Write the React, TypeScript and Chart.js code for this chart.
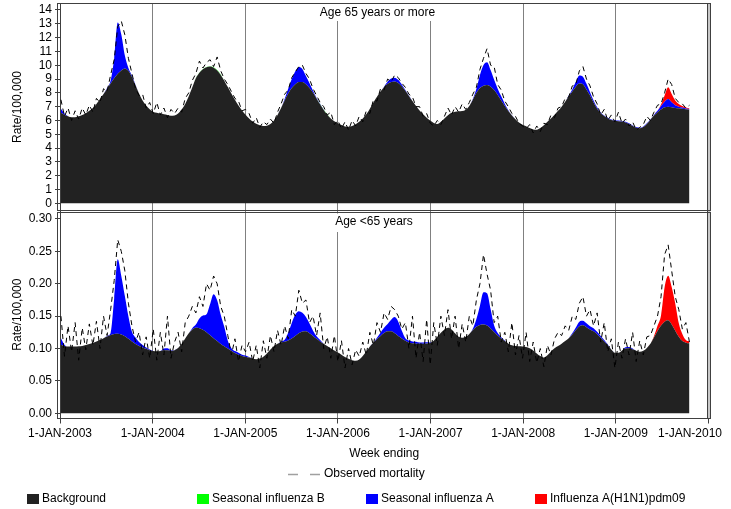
import React, { useEffect, useRef } from "react";
import { Chart, registerables } from "chart.js";

Chart.register(...registerables);

const FONT = "'Liberation Sans', Arial, sans-serif";
const SHIFT = 7; // canvas starts above the page so the forced top label padding lands outside the view

// ---- categories / ticks / labels ----
const yearTicks = [2003, 2004, 2005, 2006, 2007, 2008, 2009, 2010];
const topTicks = [0, 1, 2, 3, 4, 5, 6, 7, 8, 9, 10, 11, 12, 13, 14];
const bottomTicks = [0, 0.05, 0.1, 0.15, 0.2, 0.25, 0.3];
const panelTitles = ["Age 65 years or more", "Age <65 years"];
const seriesNames = ["Background", "Seasonal influenza B", "Seasonal influenza A", "Influenza A(H1N1)pdm09"];
const seriesColors = ["#222222", "#00ff00", "#0000ff", "#ff0000"];
const observedName = "Observed mortality";
const xTitle = "Week ending";
const yTitle = "Rate/100,000";

// ---- Age 65 years or more (rate per 100,000), one sample every two weeks from early Jan 2003 ----
const topBackground = [
  6.55, 6.42, 6.30, 6.23, 6.24, 6.30, 6.39, 6.52, 6.70, 6.90, 7.20, 7.55, 7.92, 8.30, 8.68, 9.05, 9.38, 9.62, 9.77, 9.60, 9.15, 8.55, 7.95, 7.45, 7.08, 6.82, 6.62,
  6.56, 6.50, 6.45, 6.40, 6.34, 6.36, 6.50, 6.80, 7.20, 7.75, 8.40, 9.05, 9.45, 9.70, 9.85, 9.90, 9.82, 9.62, 9.30, 8.88, 8.42, 7.95, 7.50, 7.08, 6.72, 6.42,
  6.15, 5.92, 5.76, 5.66, 5.60, 5.62, 5.75, 6.00, 6.40, 6.90, 7.45, 7.95, 8.35, 8.62, 8.78, 8.78, 8.62, 8.35, 8.00, 7.58, 7.15, 6.75, 6.42, 6.15, 5.95, 5.80,
  5.67, 5.57, 5.55, 5.60, 5.72, 5.90, 6.15, 6.45, 6.85, 7.30, 7.72, 8.10, 8.40, 8.65, 8.78, 8.82, 8.72, 8.48, 8.15, 7.78, 7.40, 7.05, 6.72, 6.45, 6.20, 6.00,
  5.82, 5.74, 5.90, 6.15, 6.38, 6.55, 6.63, 6.66, 6.68, 6.78, 7.05, 7.50, 8.00, 8.35, 8.52, 8.57, 8.45, 8.20, 7.85, 7.45, 7.05, 6.68, 6.35, 6.08, 5.85, 5.68,
  5.58, 5.45, 5.35, 5.33, 5.45, 5.65, 5.90, 6.15, 6.42, 6.70, 7.00, 7.35, 7.75, 8.10, 8.45, 8.68, 8.62, 8.25, 7.80, 7.30, 6.85, 6.52, 6.32, 6.15, 6.03, 5.98,
  5.95, 5.92, 5.86, 5.75, 5.60, 5.48, 5.43, 5.52, 5.75, 6.05, 6.35, 6.60, 6.80, 6.95, 7.00, 6.96, 6.90, 6.88, 6.85, 6.82, 6.80,
];
const topFluB = [
  0, 0, 0, 0, 0, 0, 0, 0, 0, 0, 0, 0, 0, 0, 0, 0, 0, 0, 0, 0, 0, 0, 0, 0, 0, 0, 0,
  0, 0, 0, 0, 0, 0, 0, 0, 0, 0, 0, 0.03, 0.03, 0.03, 0.03, 0.03, 0.03, 0.03, 0.03, 0, 0, 0, 0, 0, 0, 0,
  0, 0, 0, 0, 0, 0, 0, 0, 0, 0, 0, 0, 0, 0, 0, 0, 0, 0, 0, 0, 0.03, 0.03, 0.03, 0, 0, 0,
  0, 0, 0, 0, 0, 0, 0, 0, 0, 0, 0, 0, 0, 0, 0, 0, 0, 0, 0, 0, 0, 0, 0, 0, 0, 0,
  0, 0, 0, 0, 0, 0, 0, 0, 0, 0, 0, 0, 0, 0, 0, 0, 0, 0, 0, 0, 0, 0, 0, 0, 0, 0,
  0, 0, 0, 0, 0, 0, 0, 0, 0, 0, 0, 0, 0, 0, 0, 0, 0, 0, 0, 0, 0, 0, 0, 0, 0, 0,
  0, 0, 0, 0, 0, 0, 0, 0, 0, 0, 0, 0, 0, 0, 0, 0, 0, 0, 0, 0, 0,
];
const topFluA = [
  0.30, 0.08, 0, 0, 0, 0, 0, 0, 0, 0, 0, 0, 0, 0.05, 0.22, 1.45, 3.72, 2.60, 0.93, 0.20, 0.10, 0.03, 0, 0, 0, 0, 0,
  0, 0, 0, 0, 0, 0, 0, 0, 0, 0, 0, 0, 0, 0, 0, 0, 0, 0, 0, 0, 0, 0, 0, 0, 0, 0,
  0, 0, 0, 0, 0, 0, 0, 0, 0, 0, 0.10, 0.35, 0.65, 0.95, 1.10, 0.95, 0.60, 0.35, 0.15, 0.05, 0.03, 0.02, 0, 0, 0, 0,
  0, 0, 0, 0, 0, 0, 0, 0, 0, 0, 0, 0, 0.05, 0.15, 0.25, 0.28, 0.22, 0.12, 0.05, 0.02, 0, 0, 0, 0, 0, 0,
  0, 0, 0, 0, 0, 0, 0, 0, 0, 0, 0, 0.05, 0.30, 0.95, 1.50, 1.65, 1.20, 0.75, 0.45, 0.30, 0.15, 0.06, 0.02, 0, 0, 0,
  0, 0, 0, 0, 0, 0, 0, 0, 0, 0, 0, 0, 0.05, 0.15, 0.35, 0.58, 0.55, 0.40, 0.25, 0.15, 0.10, 0.06, 0.04, 0.04, 0.04, 0.04,
  0.04, 0.04, 0.04, 0.04, 0.04, 0.04, 0.04, 0.04, 0.04, 0.04, 0.05, 0.10, 0.25, 0.40, 0.55, 0.35, 0.20, 0.12, 0.08, 0.04, 0.03,
];
const topH1N1 = [
  0, 0, 0, 0, 0, 0, 0, 0, 0, 0, 0, 0, 0, 0, 0, 0, 0, 0, 0, 0, 0, 0, 0, 0, 0, 0, 0,
  0, 0, 0, 0, 0, 0, 0, 0, 0, 0, 0, 0, 0, 0, 0, 0, 0, 0, 0, 0, 0, 0, 0, 0, 0, 0,
  0, 0, 0, 0, 0, 0, 0, 0, 0, 0, 0, 0, 0, 0, 0, 0, 0, 0, 0, 0, 0, 0, 0, 0, 0, 0,
  0, 0, 0, 0, 0, 0, 0, 0, 0, 0, 0, 0, 0, 0, 0, 0, 0, 0, 0, 0, 0, 0, 0, 0, 0, 0,
  0, 0, 0, 0, 0, 0, 0, 0, 0, 0, 0, 0, 0, 0, 0, 0, 0, 0, 0, 0, 0, 0, 0, 0, 0, 0,
  0, 0, 0, 0, 0, 0, 0, 0, 0, 0, 0, 0, 0, 0, 0, 0, 0, 0, 0, 0, 0, 0, 0, 0, 0, 0,
  0, 0, 0, 0, 0, 0, 0, 0, 0, 0, 0, 0, 0.10, 0.45, 0.85, 0.60, 0.35, 0.20, 0.12, 0.08, 0.05,
];
const topObserved = [
  7.5, 6.3, 6.9, 6.0, 6.7, 6.1, 6.9, 6.4, 7.1, 6.6, 7.6, 7.3, 8.3, 8.1, 9.3, 10.4, 12.8, 13.2, 12.2, 10.5, 9.4, 8.3, 7.8, 7.9, 6.9, 7.3, 6.5,
  7.3, 6.4, 6.9, 6.2, 6.8, 6.5, 6.9, 6.6, 7.6, 8.0, 8.9, 9.4, 10.3, 9.8, 10.2, 10.4, 9.9, 10.6, 9.6, 9.0, 8.6, 8.1, 7.6, 7.4, 6.7, 6.8,
  6.5, 5.8, 6.2, 5.5, 5.9, 5.7, 6.1, 5.8, 6.6, 7.2, 7.9, 8.2, 9.1, 9.5, 9.9, 10.0, 9.4, 9.0, 8.3, 7.8, 7.3, 7.0, 6.4, 6.6, 5.7, 6.0,
  5.4, 5.9, 5.3, 6.0, 5.6, 6.3, 5.9, 6.7, 6.5, 7.5, 7.4, 8.3, 8.2, 9.0, 8.8, 9.3, 9.1, 8.7, 8.4, 7.9, 7.7, 7.0, 7.0, 6.3, 6.5, 5.8,
  5.6, 6.0, 5.7, 6.3, 6.9, 6.4, 7.0, 6.6, 7.2, 6.8, 7.3, 7.9, 8.4, 9.7, 10.5, 11.2, 10.0, 9.9, 8.6, 8.2, 7.4, 7.0, 6.5, 6.3, 5.8, 5.6,
  5.4, 5.7, 5.1, 5.6, 5.2, 5.8, 5.7, 6.4, 6.2, 6.9, 7.0, 7.6, 7.7, 8.5, 8.6, 9.6, 9.9, 9.0, 8.5, 7.7, 7.2, 6.4, 6.8, 6.0, 6.4, 5.9,
  6.6, 5.8, 6.1, 5.6, 5.9, 5.3, 5.5, 5.7, 6.3, 6.0, 6.6, 7.1, 7.2, 8.0, 9.0, 8.6, 7.6, 7.3, 7.2, 6.9, 7.1,
];

// ---- Age <65 years ----
const bottomBackground = [
  0.106, 0.104, 0.103, 0.103, 0.1032, 0.1036, 0.104, 0.1055, 0.107, 0.109, 0.111, 0.113, 0.1158, 0.1185, 0.121, 0.1225, 0.1228, 0.1218, 0.119, 0.115, 0.111, 0.107, 0.104, 0.1015, 0.0995, 0.0975, 0.0962,
  0.0958, 0.0962, 0.0972, 0.0975, 0.0965, 0.0975, 0.101, 0.1075, 0.1155, 0.1235, 0.1295, 0.132, 0.1315, 0.129, 0.125, 0.1205, 0.116, 0.1115, 0.107, 0.1035, 0.1, 0.0965, 0.093, 0.0905, 0.0885, 0.0872,
  0.086, 0.0845, 0.0836, 0.0845, 0.0875, 0.0925, 0.0985, 0.104, 0.1075, 0.1095, 0.1105, 0.1125, 0.1155, 0.1195, 0.1235, 0.1262, 0.1265, 0.1235, 0.1195, 0.115, 0.111, 0.1075, 0.104, 0.1005, 0.097, 0.094,
  0.0905, 0.087, 0.0842, 0.082, 0.081, 0.083, 0.0885, 0.0955, 0.103, 0.109, 0.1145, 0.1195, 0.124, 0.1268, 0.1265, 0.1235, 0.1195, 0.1155, 0.112, 0.1095, 0.108, 0.1075, 0.1075, 0.1075, 0.1078, 0.1085,
  0.112, 0.118, 0.1245, 0.1295, 0.132, 0.1295, 0.1235, 0.118, 0.1165, 0.118, 0.1225, 0.1285, 0.1335, 0.1362, 0.137, 0.1355, 0.131, 0.1255, 0.12, 0.1155, 0.1115, 0.1075, 0.105, 0.104, 0.1035, 0.1032,
  0.1025, 0.1005, 0.097, 0.0925, 0.0885, 0.086, 0.0895, 0.0955, 0.1005, 0.104, 0.1075, 0.1115, 0.116, 0.1215, 0.1285, 0.1345, 0.1358, 0.133, 0.1295, 0.1265, 0.122, 0.1165, 0.111, 0.1052, 0.0985, 0.0935,
  0.0935, 0.097, 0.1, 0.1005, 0.099, 0.0965, 0.095, 0.0965, 0.101, 0.1075, 0.117, 0.127, 0.1355, 0.1415, 0.1435, 0.137, 0.1275, 0.118, 0.1115, 0.109, 0.108,
];
const bottomFluB = [
  0, 0, 0, 0, 0, 0, 0, 0, 0, 0, 0, 0, 0, 0, 0, 0, 0, 0, 0, 0, 0, 0, 0, 0, 0, 0, 0,
  0, 0, 0, 0, 0, 0, 0, 0, 0, 0, 0, 0, 0, 0, 0, 0, 0, 0, 0, 0, 0, 0, 0, 0, 0, 0,
  0, 0, 0, 0, 0, 0, 0, 0, 0, 0, 0, 0, 0, 0, 0, 0, 0, 0, 0, 0, 0, 0, 0, 0, 0, 0,
  0, 0, 0, 0, 0, 0, 0, 0, 0, 0, 0, 0, 0, 0, 0, 0, 0, 0, 0, 0, 0, 0, 0, 0, 0, 0,
  0, 0, 0, 0, 0, 0, 0, 0, 0, 0, 0, 0, 0, 0, 0, 0, 0, 0, 0, 0, 0, 0, 0, 0, 0, 0,
  0, 0, 0, 0, 0, 0, 0, 0, 0, 0, 0, 0, 0, 0, 0, 0, 0, 0, 0, 0, 0, 0, 0, 0, 0, 0,
  0, 0, 0, 0, 0, 0, 0, 0, 0, 0, 0, 0, 0, 0, 0, 0, 0, 0, 0, 0, 0,
];
const bottomFluA = [
  0.01, 0.002, 0, 0, 0, 0, 0, 0, 0, 0, 0, 0, 0, 0.001, 0.003, 0.055, 0.115, 0.09, 0.062, 0.035, 0.015, 0.01, 0.006, 0.004, 0.002, 0.001, 0,
  0, 0, 0.003, 0.003, 0.001, 0, 0, 0, 0, 0, 0.002, 0.005, 0.015, 0.022, 0.028, 0.048, 0.068, 0.063, 0.045, 0.03, 0.012, 0.004, 0.003, 0.003, 0.002, 0.002,
  0.001, 0, 0, 0, 0, 0, 0, 0, 0, 0.001, 0.003, 0.012, 0.024, 0.033, 0.034, 0.029, 0.022, 0.015, 0.008, 0.004, 0.002, 0, 0, 0, 0, 0,
  0, 0, 0, 0, 0, 0, 0, 0, 0, 0, 0.002, 0.005, 0.008, 0.011, 0.018, 0.025, 0.022, 0.012, 0.004, 0.003, 0.003, 0.003, 0.002, 0.002, 0.002, 0.001,
  0, 0, 0, 0, 0, 0, 0, 0, 0, 0, 0, 0.002, 0.012, 0.03, 0.05, 0.05, 0.03, 0.01, 0.004, 0.002, 0.001, 0, 0, 0, 0, 0,
  0, 0, 0, 0, 0, 0, 0, 0, 0, 0, 0, 0, 0, 0.002, 0.004, 0.007, 0.007, 0.006, 0.005, 0.005, 0.004, 0.003, 0.002, 0.001, 0, 0,
  0, 0, 0.002, 0.002, 0.001, 0, 0, 0, 0, 0, 0, 0, 0, 0, 0, 0, 0, 0, 0, 0, 0,
];
const bottomH1N1 = [
  0, 0, 0, 0, 0, 0, 0, 0, 0, 0, 0, 0, 0, 0, 0, 0, 0, 0, 0, 0, 0, 0, 0, 0, 0, 0, 0,
  0, 0, 0, 0, 0, 0, 0, 0, 0, 0, 0, 0, 0, 0, 0, 0, 0, 0, 0, 0, 0, 0, 0, 0, 0, 0,
  0, 0, 0, 0, 0, 0, 0, 0, 0, 0, 0, 0, 0, 0, 0, 0, 0, 0, 0, 0, 0, 0, 0, 0, 0, 0,
  0, 0, 0, 0, 0, 0, 0, 0, 0, 0, 0, 0, 0, 0, 0, 0, 0, 0, 0, 0, 0, 0, 0, 0, 0, 0,
  0, 0, 0, 0, 0, 0, 0, 0, 0, 0, 0, 0, 0, 0, 0, 0, 0, 0, 0, 0, 0, 0, 0, 0, 0, 0,
  0, 0, 0, 0, 0, 0, 0, 0, 0, 0, 0, 0, 0, 0, 0, 0, 0, 0, 0, 0, 0, 0, 0, 0, 0, 0,
  0, 0, 0, 0, 0, 0, 0, 0, 0, 0, 0.002, 0.008, 0.016, 0.053, 0.069, 0.058, 0.042, 0.021, 0.011, 0.004, 0.003,
];
const bottomObserved = [
  0.150, 0.088, 0.135, 0.095, 0.140, 0.082, 0.132, 0.098, 0.138, 0.105, 0.142, 0.100, 0.150, 0.120, 0.160, 0.205, 0.268, 0.250, 0.220, 0.170, 0.135, 0.110, 0.125, 0.090, 0.118, 0.085, 0.130,
  0.082, 0.125, 0.090, 0.150, 0.085, 0.110, 0.125, 0.095, 0.140, 0.150, 0.165, 0.155, 0.180, 0.165, 0.200, 0.190, 0.212, 0.200, 0.165, 0.150, 0.120, 0.090, 0.115, 0.080, 0.105, 0.095,
  0.110, 0.080, 0.105, 0.070, 0.112, 0.085, 0.120, 0.095, 0.128, 0.105, 0.135, 0.115, 0.160, 0.150, 0.190, 0.170, 0.175, 0.140, 0.150, 0.120, 0.155, 0.100, 0.118, 0.085, 0.120, 0.080,
  0.112, 0.070, 0.100, 0.075, 0.098, 0.088, 0.110, 0.090, 0.125, 0.105, 0.140, 0.125, 0.155, 0.145, 0.165, 0.160, 0.150, 0.130, 0.140, 0.100, 0.150, 0.085, 0.125, 0.080, 0.145, 0.075,
  0.140, 0.105, 0.150, 0.120, 0.160, 0.115, 0.150, 0.100, 0.138, 0.110, 0.150, 0.135, 0.175, 0.200, 0.245, 0.215, 0.190, 0.140, 0.150, 0.110, 0.125, 0.095, 0.140, 0.090, 0.120, 0.085,
  0.125, 0.080, 0.110, 0.078, 0.100, 0.072, 0.105, 0.090, 0.115, 0.125, 0.120, 0.135, 0.128, 0.150, 0.145, 0.170, 0.180, 0.150, 0.160, 0.135, 0.155, 0.110, 0.140, 0.095, 0.115, 0.070,
  0.110, 0.085, 0.115, 0.090, 0.125, 0.080, 0.112, 0.090, 0.118, 0.120, 0.135, 0.150, 0.180, 0.245, 0.260, 0.220, 0.180, 0.160, 0.130, 0.140, 0.110,
];

// week-ending dates as fractional years (a sample every 14 days, first week of 2003)
const weekEnding = topBackground.map((_, i) => 2003.01 + (i * 14) / 365.25);

function toPoints(vals: number[]) {
  return vals.map((v, i) => ({ x: weekEnding[i], y: v }));
}

function panelDatasets(axis: string, comps: number[][], observed: number[]) {
  const ds: any[] = comps.map((vals, k) => ({
    label: seriesNames[k],
    data: toPoints(vals),
    yAxisID: axis,
    stack: "flu",
    backgroundColor: seriesColors[k],
    borderColor: "rgba(0,0,0,0)",
    borderWidth: 0,
    pointRadius: 0,
    fill: k === 0 ? "origin" : "-1",
    cubicInterpolationMode: "monotone",
    order: 1,
  }));
  ds.push({
    label: observedName,
    data: toPoints(observed),
    yAxisID: axis,
    stack: "obs",
    borderColor: "#000000",
    borderWidth: 1,
    borderDash: [5, 4],
    pointRadius: 0,
    fill: false,
    tension: 0,
    order: 0,
  });
  return ds;
}

const decorPlugin = {
  id: "decor",
  afterDraw(chart: any) {
    const ctx = chart.ctx;
    ctx.save();
    ctx.translate(0, SHIFT); // draw below in page coordinates
    // panel titles on white boxes (they hide the grid lines behind them)
    ctx.fillStyle = "#ffffff";
    ctx.fillRect(318, 4, 120, 17);
    ctx.fillRect(332, 213.5, 84, 18.5);
    ctx.fillStyle = "#000000";
    ctx.font = `12px ${FONT}`;
    ctx.textBaseline = "middle";
    ctx.textAlign = "center";
    ctx.fillText(panelTitles[0], 377.5, 13);
    ctx.fillText(panelTitles[1], 374, 222);

    // last year label, kept inside the page
    ctx.textAlign = "right";
    ctx.fillText("1-JAN-" + yearTicks[yearTicks.length - 1], 722, 434);

    // panel frames
    ctx.strokeStyle = "#404040";
    ctx.lineWidth = 1;
    ctx.fillStyle = "#c8c8c8";
    ctx.fillRect(708, 3.5, 2.5, 415);
    ctx.strokeRect(57.5, 3.5, 653, 207);
    ctx.strokeRect(57.5, 212.5, 653, 206);
    ctx.beginPath();
    ctx.moveTo(707.5, 3.5);
    ctx.lineTo(707.5, 418.5);
    ctx.stroke();

    // legend: observed line
    ctx.strokeStyle = "#a0a0a0";
    ctx.lineWidth = 1.5;
    ctx.setLineDash([10, 12]);
    ctx.beginPath();
    ctx.moveTo(288, 474.5);
    ctx.lineTo(321, 474.5);
    ctx.stroke();
    ctx.setLineDash([]);
    ctx.fillStyle = "#000000";
    ctx.textAlign = "left";
    ctx.fillText(observedName, 324, 474);

    // legend: area series
    const xs = [27, 197, 366, 535];
    seriesNames.forEach((name, k) => {
      ctx.fillStyle = seriesColors[k];
      ctx.fillRect(xs[k], 494, 12, 10);
      ctx.fillStyle = "#000000";
      ctx.fillText(name, xs[k] + 15, 499);
    });
    ctx.restore();
  },
};

function yScale(ticks: number[], min: number, max: number, weight: number, fmt: (v: number) => string) {
  return {
    type: "linear",
    position: "left",
    stack: "panels",
    stackWeight: weight,
    stacked: true,
    min,
    max,
    afterBuildTicks: (s: any) => {
      s.ticks = ticks.map((v) => ({ value: v }));
    },
    afterFit: (s: any) => {
      s.width = 60;
    },
    ticks: {
      callback: (v: any) => fmt(Number(v)),
      color: "#000000",
      font: { size: 12, family: FONT },
      padding: 3,
      autoSkip: false,
    },
    grid: { drawOnChartArea: false, drawTicks: true, tickLength: 5, tickColor: "#404040" },
    border: { display: true, color: "#404040" },
    title: {
      display: true,
      text: yTitle,
      color: "#000000",
      font: { size: 12, family: FONT },
      padding: { top: 10.5, bottom: 0 },
    },
  };
}

export default function App() {
  const ref = useRef<HTMLCanvasElement | null>(null);

  useEffect(() => {
    if (!ref.current) return;
    const datasets = [
      ...panelDatasets("yTop", [topBackground, topFluB, topFluA, topH1N1], topObserved),
      ...panelDatasets("yBot", [bottomBackground, bottomFluB, bottomFluA, bottomH1N1], bottomObserved),
    ];
    const chart = new Chart(ref.current, {
      type: "line",
      data: { datasets },
      options: {
        responsive: false,
        animation: false,
        events: [],
        layout: { padding: { top: 3.3 + SHIFT, right: 22.5, bottom: 44.5, left: 0 }, autoPadding: false },
        plugins: { legend: { display: false }, tooltip: { enabled: false } },
        scales: {
          x: {
            type: "linear",
            position: "bottom",
            min: yearTicks[0],
            max: yearTicks[yearTicks.length - 1],
            afterBuildTicks: (s: any) => {
              s.ticks = yearTicks.map((v) => ({ value: v }));
            },
            afterFit: (s: any) => {
              s.height = 46;
            },
            ticks: {
              callback: (v: any) => (Number(v) === yearTicks[yearTicks.length - 1] ? "" : "1-JAN-" + v),
              color: "#000000",
              font: { size: 12, family: FONT },
              maxRotation: 0,
              minRotation: 0,
              autoSkip: false,
              padding: 3,
            },
            grid: { color: "#808080", lineWidth: 1, drawTicks: true, tickLength: 5, tickColor: "#404040" },
            border: { display: true, color: "#404040" },
            title: {
              display: true,
              text: xTitle,
              color: "#000000",
              font: { size: 12, family: FONT },
              padding: { top: 5, bottom: 4 },
            },
          },
          yBot: yScale(bottomTicks, -0.00803, 0.31281, 207.8, (v) => v.toFixed(2)),
          yTop: yScale(topTicks, -0.536, 14.485, 207.4, (v) => String(v)),
        } as any,
      },
      plugins: [decorPlugin],
    } as any);
    return () => chart.destroy();
  }, []);

  return (
    <div style={{ position: "absolute", left: 0, top: 0, width: 731, height: 509, overflow: "hidden", background: "#ffffff" }}>
      <canvas ref={ref} width={731} height={509 + SHIFT} style={{ position: "absolute", left: 0, top: -SHIFT }} />
    </div>
  );
}
